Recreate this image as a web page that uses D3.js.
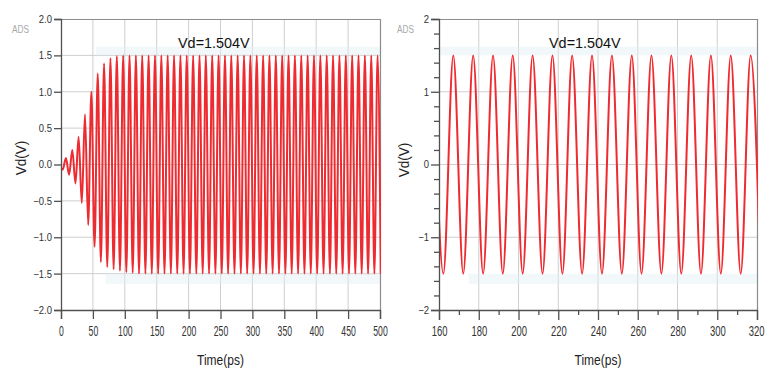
<!DOCTYPE html>
<html>
<head>
<meta charset="utf-8">
<script src="https://cdn.jsdelivr.net/npm/d3@7"></script>
<style>
  html, body { margin: 0; padding: 0; background: #fff; }
  svg { display: block; font-family: 'Liberation Sans', Arial, sans-serif; }
</style>
</head>
<body>
<div id="app"></div>
<script>
// transient start-up: time (ps) of each turning point and its value (V)
const leftT = [
  0, 2.7, 7.7, 12.7, 17.7, 22.7, 27.6, 32.6, 37.6, 42.6,
  47.6, 52.6, 57.6, 62.5, 67.5, 72.5, 77.5, 82.5, 87.5, 92.4,
  97.4, 102.4, 107.4, 112.4, 117.4, 122.3, 127.3, 132.3, 137.3, 142.3,
  147.3, 152.3, 157.3, 162.2, 167.2, 172.2, 177.2, 182.2, 187.2, 192.1,
  197.1, 202.1, 207.1, 212.1, 217.1, 222.1, 227.0, 232.0, 237.0, 242.0,
  247.0, 252.0, 257.0, 261.9, 266.9, 271.9, 276.9, 281.9, 286.9, 291.8,
  296.8, 301.8, 306.8, 311.8, 316.8, 321.7, 326.7, 331.7, 336.7, 341.7,
  346.7, 351.7, 356.6, 361.6, 366.6, 371.6, 376.6, 381.6, 386.6, 391.5,
  396.5, 401.5, 406.5, 411.5, 416.5, 421.5, 426.4, 431.4, 436.4, 441.4,
  446.4, 451.4, 456.4, 461.3, 466.3, 471.3, 476.3, 481.3, 486.3, 491.2,
  496.2, 501.2
]
const leftV = [
  -0.05, -0.07, 0.09, -0.14, 0.2, -0.26, 0.38, -0.53, 0.69, -0.83,
  1.0, -1.13, 1.25, -1.34, 1.39, -1.41, 1.46, -1.44, 1.49, -1.46,
  1.5, -1.48, 1.5, -1.49, 1.5, -1.5, 1.5, -1.5, 1.5, -1.5,
  1.5, -1.5, 1.5, -1.5, 1.5, -1.5, 1.5, -1.5, 1.5, -1.5,
  1.5, -1.5, 1.5, -1.5, 1.5, -1.5, 1.5, -1.5, 1.5, -1.5,
  1.5, -1.5, 1.5, -1.5, 1.5, -1.5, 1.5, -1.5, 1.5, -1.5,
  1.5, -1.5, 1.5, -1.5, 1.5, -1.5, 1.5, -1.5, 1.5, -1.5,
  1.5, -1.5, 1.5, -1.5, 1.5, -1.5, 1.5, -1.5, 1.5, -1.5,
  1.5, -1.5, 1.5, -1.5, 1.5, -1.5, 1.5, -1.5, 1.5, -1.5,
  1.5, -1.5, 1.5, -1.5, 1.5, -1.5, 1.5, -1.5, 1.5, -1.5,
  1.5, -1.5
]

// steady state window 160-320 ps
const rightT = [
  157.2, 162.2, 167.2, 172.2, 177.2, 182.2, 187.2, 192.1, 197.1, 202.1,
  207.1, 212.1, 217.1, 222.1, 227.0, 232.0, 237.0, 242.0, 247.0, 252.0,
  257.0, 261.9, 266.9, 271.9, 276.9, 281.9, 286.9, 291.8, 296.8, 301.8,
  306.8, 311.8, 316.8, 321.7
]
const rightV = [
  1.5, -1.5, 1.5, -1.5, 1.5, -1.5, 1.5, -1.5, 1.5, -1.5,
  1.5, -1.5, 1.5, -1.5, 1.5, -1.5, 1.5, -1.5, 1.5, -1.5,
  1.5, -1.5, 1.5, -1.5, 1.5, -1.5, 1.5, -1.5, 1.5, -1.5,
  1.5, -1.5, 1.5, -1.5
]

const leftXTicks = [0, 50, 100, 150, 200, 250, 300, 350, 400, 450, 500]
const leftYTicks = [-2, -1.5, -1, -0.5, 0, 0.5, 1, 1.5, 2]
const rightXTicks = [160, 180, 200, 220, 240, 260, 280, 300, 320]
const rightXMinor = [170, 190, 210, 230, 250, 270, 290, 310]
const rightYTicks = [-2, -1, 0, 1, 2]
const rightYMinor = [-1.8, -1.6, -1.4, -1.2, -0.8, -0.6, -0.4, -0.2, 0.2, 0.4, 0.6, 0.8, 1.2, 1.4, 1.6, 1.8]

const title = 'Vd=1.504V'
const W = 766, H = 369
const RED = '#ee2b30'

const svg = d3.select('#app').append('svg').attr('width', W).attr('height', H)

// squeeze text horizontally, the picture uses a condensed face
function squeeze(sel, k) {
  sel.each(function () {
    const len = this.getComputedTextLength()
    d3.select(this).attr('textLength', len * k).attr('lengthAdjust', 'spacingAndGlyphs')
  })
}

function panel(opts) {
  const { x, y, id } = opts
  const [x0, x1] = x.range()
  const [y0, y1] = y.range()
  const g = svg.append('g')

  // grid
  g.append('g').selectAll('line').data(opts.xGrid).join('line')
    .attr('x1', (d) => x(d)).attr('x2', (d) => x(d)).attr('y1', y0).attr('y2', y1)
    .attr('stroke', '#cfcfcf').attr('stroke-width', 1)
  g.append('g').selectAll('line').data(opts.yGrid).join('line')
    .attr('x1', x0).attr('x2', x1).attr('y1', (d) => y(d)).attr('y2', (d) => y(d))
    .attr('stroke', '#cfcfcf').attr('stroke-width', 1)

  // faint halo around the waveform envelope
  g.append('rect')
    .attr('x', x(opts.haloFrom)).attr('width', x1 - x(opts.haloFrom))
    .attr('y', y(1.62)).attr('height', y(1.5) - y(1.62))
    .attr('fill', '#e2f0f5').attr('opacity', 0.45)
  g.append('rect')
    .attr('x', x(opts.haloFrom + 15)).attr('width', x1 - x(opts.haloFrom + 15))
    .attr('y', y(-1.5)).attr('height', y(-1.64) - y(-1.5))
    .attr('fill', '#e2f0f5').attr('opacity', 0.45)

  // frame top / right
  g.append('path')
    .attr('d', `M${x0},${y1 + 0.5}H${x1 + 0.5}V${y0}`)
    .attr('fill', 'none').attr('stroke', '#8c8c8c').attr('stroke-width', 1.2)

  // waveform
  svg.append('clipPath').attr('id', id).append('rect')
    .attr('x', x0).attr('y', y1).attr('width', x1 - x0 + 1).attr('height', y0 - y1)
  const pts = opts.t.map((t, i) => [t, opts.v[i]])
  g.append('path')
    .datum(pts)
    .attr('clip-path', `url(#${id})`)
    .attr('fill', 'none')
    .attr('stroke', RED)
    .attr('stroke-width', opts.lw)
    .attr('d', d3.line().x((d) => x(d[0])).y((d) => y(d[1])).curve(d3.curveMonotoneX))

  // axes
  const ax = g.append('g').attr('transform', `translate(0,${y0})`)
    .call(d3.axisBottom(x).tickValues(opts.xTicks).tickSize(opts.xTickSize).tickPadding(opts.xPad).tickFormat(d3.format('d')))
  const ay = g.append('g').attr('transform', `translate(${x0},0)`)
    .call(d3.axisLeft(y).tickValues(opts.yTicks).tickSize(opts.yTickSize).tickPadding(2).tickFormat(opts.yFmt))
  if (opts.xMinor) {
    g.append('g').attr('transform', `translate(0,${y0})`)
      .call(d3.axisBottom(x).tickValues(opts.xMinor).tickSize(5).tickFormat(''))
      .call((s) => s.select('.domain').remove())
  }
  if (opts.yMinor) {
    g.append('g').attr('transform', `translate(${x0},0)`)
      .call(d3.axisLeft(y).tickValues(opts.yMinor).tickSize(5).tickFormat(''))
      .call((s) => s.select('.domain').remove())
  }
  g.selectAll('.domain, .tick line').attr('stroke', '#505050').attr('stroke-width', 1.3)
  ax.selectAll('text').attr('font-size', opts.xFont).attr('fill', '#333')
    .attr('font-family', "'Liberation Sans', Arial, sans-serif")
    .attr('transform', `scale(${opts.xSqueeze},1)`)
  ay.selectAll('text').attr('font-size', 10.5).attr('fill', '#333')
    .attr('font-family', "'Liberation Sans', Arial, sans-serif")
  squeeze(ay.selectAll('text'), 0.9)
  // keep the last label inside the window
  if (opts.lastEnd) {
    ax.selectAll('.tick text').filter((d) => d === opts.xTicks[opts.xTicks.length - 1])
      .attr('text-anchor', 'end').attr('x', (opts.lastEnd - x1) / opts.xSqueeze)
  }

  // labels
  g.append('text').text('ADS')
    .attr('x', opts.adsX).attr('y', 33).attr('font-size', 11).attr('fill', '#a8a8a8')
    .call(squeeze, 0.75)
  g.append('text').text(title)
    .attr('x', opts.titleX).attr('y', 48).attr('font-size', 15.5).attr('fill', '#111')
    .call(squeeze, 0.93)
  g.append('text').text('Time(ps)')
    .attr('x', (x0 + x1) / 2).attr('y', 365).attr('text-anchor', 'middle')
    .attr('font-size', 15).attr('fill', '#222')
    .call(squeeze, 0.8)
  g.append('text').text('Vd(V)')
    .attr('transform', `translate(${opts.vdX},${opts.vdY}) rotate(-90)`)
    .attr('text-anchor', 'middle').attr('font-size', 15).attr('fill', '#222')
    .call(squeeze, 0.9)
}

const xL = d3.scaleLinear().domain([0, 500]).range([61, 380])
const yL = d3.scaleLinear().domain([-2, 2]).range([310, 19])
const xR = d3.scaleLinear().domain([160, 320]).range([439, 757])
const yR = d3.scaleLinear().domain([-2, 2]).range([310, 19])

panel({
  id: 'clipL', x: xL, y: yL, t: leftT, v: leftV, lw: 2,
  xGrid: leftXTicks.slice(1, -1), yGrid: leftYTicks.slice(1, -1),
  xTicks: leftXTicks, yTicks: leftYTicks, yFmt: d3.format('.1f'),
  xTickSize: 9, xPad: 7, yTickSize: 7, xFont: 14, xSqueeze: 0.62,
  haloFrom: 55, adsX: 12, titleX: 178, vdX: 26, vdY: 158
})
panel({
  id: 'clipR', x: xR, y: yR, t: rightT, v: rightV, lw: 2,
  xGrid: rightXTicks.slice(1, -1), yGrid: rightYTicks.slice(1, -1),
  xTicks: rightXTicks, yTicks: rightYTicks, yFmt: d3.format('d'),
  xMinor: rightXMinor, yMinor: rightYMinor,
  xTickSize: 10, xPad: 5, yTickSize: 8, xFont: 15, xSqueeze: 0.63,
  haloFrom: 160, adsX: 397, titleX: 549, vdX: 409, vdY: 160, lastEnd: 764
})
</script>
</body>
</html>
